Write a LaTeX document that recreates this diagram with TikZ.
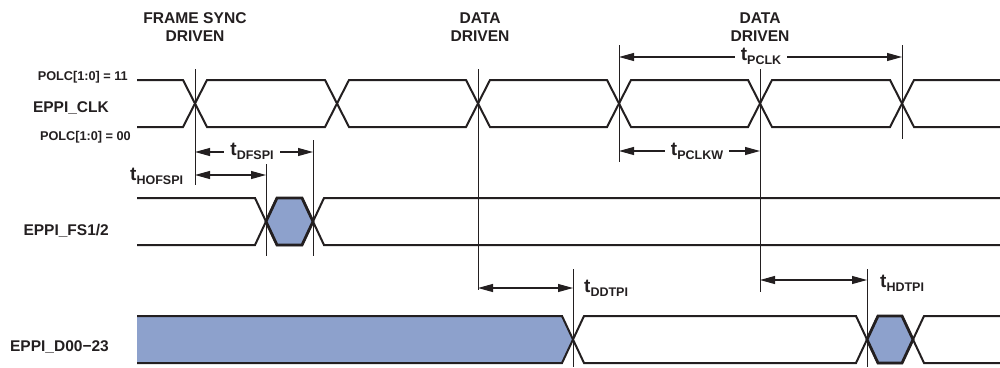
\documentclass[tikz,border=0pt]{standalone}
\usepackage{fontspec}
\setmainfont{Liberation Sans}
\usetikzlibrary{arrows.meta}
\definecolor{sig}{RGB}{35,31,32}
\definecolor{blu}{RGB}{141,161,204}
\newcommand\tlab[1]{{\fontsize{19}{20}\selectfont t}\raisebox{-4pt}{\fontsize{12.5}{14}\selectfont #1}}
\begin{document}
\begin{tikzpicture}[x=1pt,y=-1pt,
  wave/.style={draw=sig,line width=2pt},
  hexa/.style={draw=sig,line width=2.8pt,fill=blu,line join=miter},
  guide/.style={draw=sig,line width=1pt},
  dim/.style={draw=sig,line width=1.1pt,{Triangle[length=15pt,width=8pt]}-{Triangle[length=15pt,width=8pt]}},
  sigl/.style={font=\fontsize{15.5}{18}\selectfont\bfseries,inner sep=0pt,anchor=base east,text=sig},
  polc/.style={font=\fontsize{12.7}{15}\selectfont\bfseries,inner sep=0pt,anchor=base east,text=sig},
  head/.style={font=\fontsize{15.6}{18}\selectfont\bfseries,inner sep=0pt,anchor=base,text=sig},
  tl/.style={font=\bfseries,inner sep=0pt,text=sig,anchor=base},
  tlw/.style={tl,fill=white,inner xsep=6pt,inner ysep=2pt}]
\useasboundingbox (0,0) rectangle (1000,367);

% headers
\node[head] (h1a) at (195,23) {FRAME SYNC};
\node[head] (h1b) at (195,41) {DRIVEN};
\node[head] (h2a) at (480,23) {DATA};
\node[head] (h2b) at (480,41) {DRIVEN};
\node[head] (h3a) at (760,23) {DATA};
\node[head] (h3b) at (760,41) {DRIVEN};

% signal labels
\node[polc] (p11) at (128,80.7) {POLC[1:0] = 11};
\node[sigl] (clk) at (109,112.7) {EPPI\_CLK};
\node[polc] (p00) at (131,140.7) {POLC[1:0] = 00};
\node[sigl] (fs) at (109,235) {EPPI\_FS1/2};
\node[sigl] (dd) at (109,351.7) {EPPI\_D00\textminus23};

% EPPI_CLK
\draw[wave] (137,80) -- (183,80) -- (207,127) -- (325,127) -- (349,80) -- (466,80) -- (490,127) -- (607,127) -- (631,80) -- (748,80) -- (772,127) -- (890,127) -- (914,80) -- (1000,80);
\draw[wave] (137,127) -- (183,127) -- (207,80) -- (325,80) -- (349,127) -- (466,127) -- (490,80) -- (607,80) -- (631,127) -- (748,127) -- (772,80) -- (890,80) -- (914,127) -- (1000,127);

% EPPI_FS1/2
\draw[wave] (137,198) -- (255,198) -- (277,245) -- (302,245) -- (324,198) -- (1000,198);
\draw[wave] (137,245) -- (255,245) -- (277,198) -- (302,198) -- (324,245) -- (1000,245);
\draw[hexa] (266,221.5) -- (277,198) -- (302,198) -- (313,221.5) -- (302,245) -- (277,245) -- cycle;

% EPPI_D00-23
\fill[blu] (137,316) -- (562,316) -- (573,339.5) -- (562,363) -- (137,363) -- cycle;
\draw[wave] (137,316) -- (562,316) -- (584,363) -- (856,363) -- (878,316) -- (902,316) -- (924,363) -- (1000,363);
\draw[wave] (137,363) -- (562,363) -- (584,316) -- (856,316) -- (878,363) -- (902,363) -- (924,316) -- (1000,316);
\draw[hexa] (867,339.5) -- (878,316) -- (902,316) -- (913,339.5) -- (902,363) -- (878,363) -- cycle;

% guide lines
\draw[guide] (195,69) -- (195,185);
\draw[guide] (266,164) -- (266,256);
\draw[guide] (313,140) -- (313,256);
\draw[guide] (478,69) -- (478,290);
\draw[guide] (573,269) -- (573,367);
\draw[guide] (619,45) -- (619,162);
\draw[guide] (760,69) -- (760,292);
\draw[guide] (867,269) -- (867,367);
\draw[guide] (902,45) -- (902,139);

% dimension end points
\coordinate (pk1) at (619,57);  \coordinate (pk2) at (902,57);
\coordinate (pw1) at (619,151); \coordinate (pw2) at (760,151);
\coordinate (df1) at (195,152); \coordinate (df2) at (313,152);
\coordinate (ho1) at (195,175); \coordinate (ho2) at (266,175);
\coordinate (dd1) at (478,288); \coordinate (dd2) at (573,288);
\coordinate (hd1) at (760,280); \coordinate (hd2) at (867,280);

\draw[dim] (pk1) -- (pk2);
\draw[dim] (pw1) -- (pw2);
\draw[dim] (df1) -- (df2);
\draw[dim] (ho1) -- (ho2);
\draw[dim] (dd1) -- (dd2);
\draw[dim] (hd1) -- (hd2);

\node[tlw] (tpclk) at (761,60) {\tlab{PCLK}};
\node[tlw] (tpclkw) at (697,155) {\tlab{PCLKW}};
\node[tlw] (tdfspi) at (252,155) {\tlab{DFSPI}};
\node[tl,anchor=base west] (thofspi) at (130,180) {\tlab{HOFSPI}};
\node[tl,anchor=base west] (tddtpi) at (584,292) {\tlab{DDTPI}};
\node[tl,anchor=base west] (thdtpi) at (880,287) {\tlab{HDTPI}};
\end{tikzpicture}
\end{document}
